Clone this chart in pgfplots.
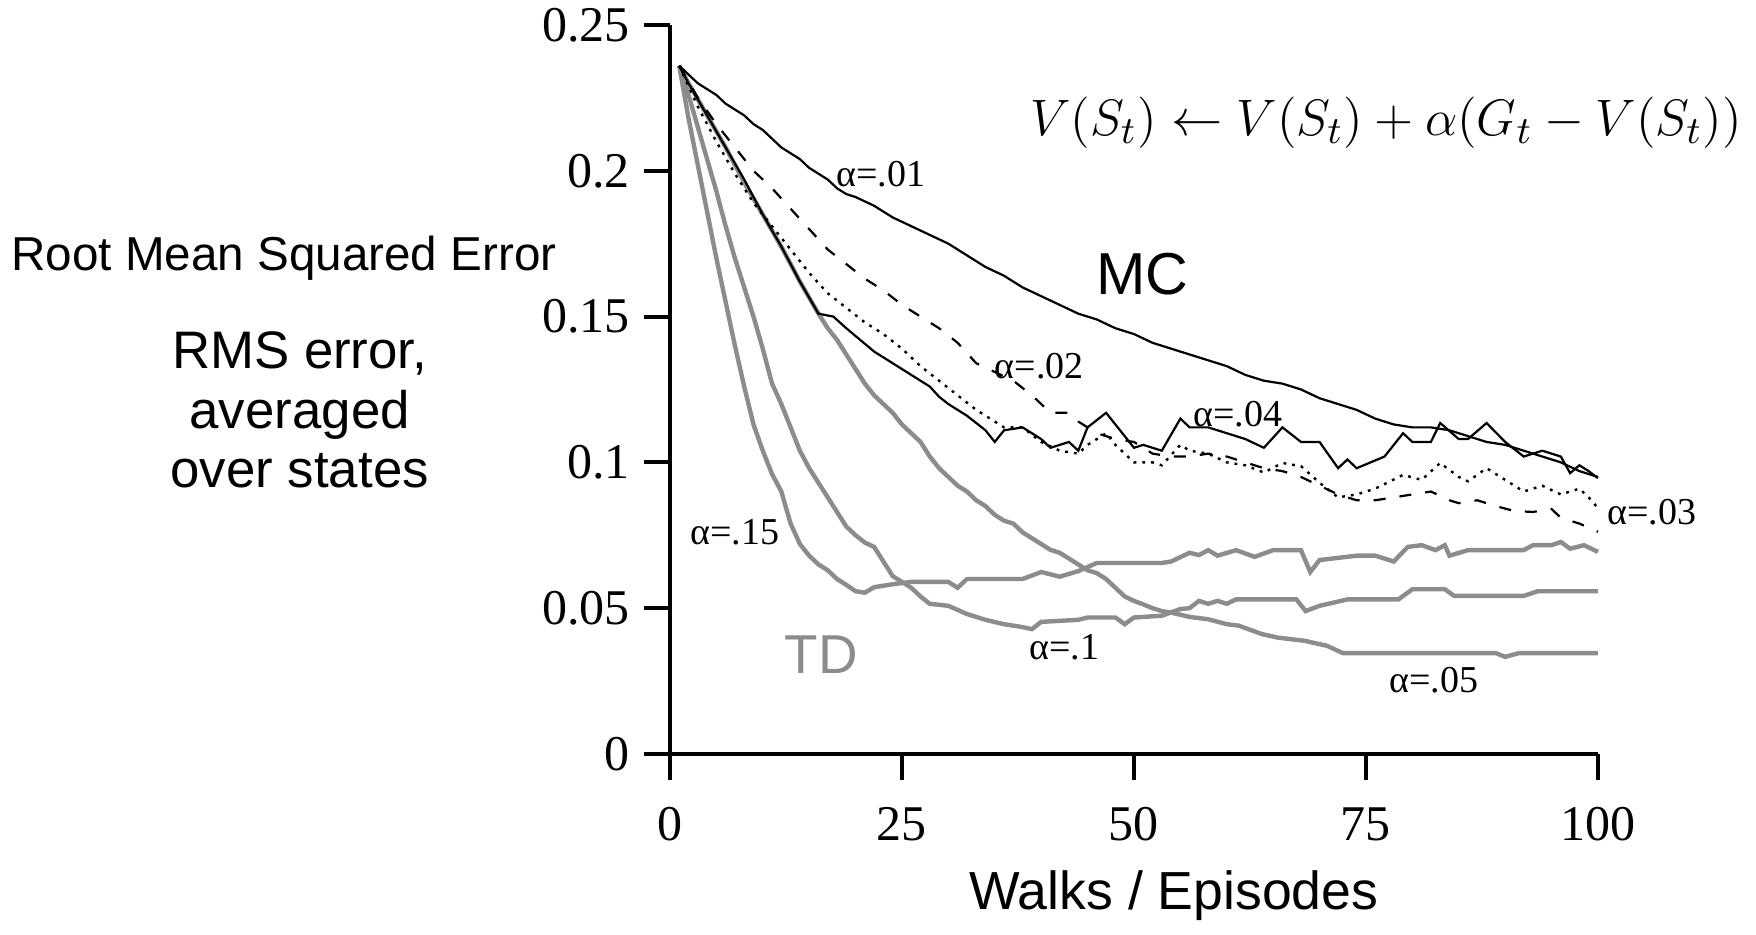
\documentclass[border=0pt]{standalone}
\usepackage{pgfplots}
\pgfplotsset{compat=1.18}
\usepackage{fontspec}
\setmainfont{Liberation Serif}
\newfontfamily\arial{Liberation Sans}
\definecolor{tdgray}{RGB}{140,140,140}
\begin{document}
\begin{tikzpicture}
\begin{axis}[
 scale only axis, width=232pt, height=182.25pt,
 xmin=0,xmax=100,ymin=0,ymax=0.25,
 axis x line*=bottom, axis y line*=left,
 axis line style={line width=1.1pt},
 tick align=outside, major tick length=6.5pt, tick style={line width=1pt, black},
 xtick={0,25,50,75,100}, ytick={0,0.05,0.1,0.15,0.2,0.25},
 /pgf/number format/assume math mode=true,
 /pgf/number format/fixed,
 ticklabel style={font=\fontsize{12.5}{14}\selectfont},
 xticklabel style={yshift=-3.4pt},
 clip=false,
]
% TD alpha=.15
\addplot[tdgray, line width=1.1pt] coordinates {
(1,0.236)(2,0.218)(3,0.202)(4,0.186)(5,0.170)(6,0.155)(7,0.140)(8,0.126)(9,0.113)(10,0.104)
(11,0.096)(12,0.090)(13,0.079)(14,0.072)(15,0.068)(16,0.065)(17,0.063)(18,0.060)(19,0.058)(20,0.0558)
(21,0.0553)(22,0.0572)(24,0.0582)(26,0.059)(28,0.059)(30,0.059)(31,0.057)(32,0.0600)(38,0.0600)(40,0.0624)
(42,0.0608)(44,0.0627)(46,0.0655)(53,0.0655)(54,0.066)(56,0.069)(57,0.0682)(58,0.0699)(59,0.068)(61,0.0699)
(63,0.0676)(65,0.0699)(68,0.0699)(69,0.0624)(70,0.0665)(74,0.068)(76,0.068)(78,0.066)(79.5,0.071)(81,0.0716)
(82.5,0.0699)(83.5,0.0716)(84,0.068)(86,0.0699)(92,0.0699)(93,0.0716)(95,0.0716)(96,0.0727)(97,0.0704)(98.5,0.0716)
(100,0.0693)
};
% TD alpha=.1
\addplot[tdgray, line width=1.1pt] coordinates {
(1,0.236)(2,0.226)(3,0.215)(4,0.204)(5,0.193)(6,0.181)(7,0.170)(8,0.160)(9,0.150)(10,0.139)
(11,0.127)(12,0.120)(13,0.112)(14,0.104)(15,0.098)(16,0.093)(17,0.088)(18,0.083)(19,0.078)(20,0.075)
(21,0.0725)(22,0.071)(23,0.066)(24,0.061)(25,0.059)(26,0.057)(27,0.054)(28,0.0515)(30,0.0508)(32,0.048)
(34,0.046)(36,0.0445)(38,0.0435)(39,0.0428)(40,0.0453)(44,0.046)(45,0.0468)(48,0.0468)(49,0.0445)(50,0.0468)
(53,0.0474)(55,0.0497)(56,0.050)(57,0.0525)(58,0.0515)(59,0.0525)(60,0.0515)(61,0.053)(67.5,0.053)(68.5,0.049)
(70,0.0508)(73,0.053)(78.5,0.053)(80,0.0565)(83.5,0.0565)(84.5,0.0542)(92,0.0542)(93.5,0.0558)(100,0.0558)
};
% TD alpha=.05
\addplot[tdgray, line width=1.1pt] coordinates {
(1,0.236)(2,0.230)(4,0.219)(6,0.208)(8,0.196)(10,0.185)(12,0.174)(14,0.162)(16,0.151)(17,0.146)
(18,0.142)(19,0.137)(20,0.132)(21,0.127)(22,0.123)(23,0.120)(24,0.117)(25,0.113)(26,0.110)(27,0.107)
(28,0.102)(29,0.098)(30,0.095)(31,0.092)(32,0.090)(33,0.087)(34,0.085)(35,0.082)(36,0.080)(37,0.079)
(38,0.076)(39,0.074)(40,0.072)(41,0.070)(42,0.069)(43,0.0670)(44,0.065)(45,0.063)(46,0.062)(47,0.060)
(48,0.057)(49,0.054)(50,0.0525)(51,0.0513)(52,0.050)(53,0.049)(54,0.0485)(56,0.047)(58,0.0462)(60,0.0445)
(61.3,0.044)(63.8,0.0411)(65.5,0.0399)(68.4,0.0388)(70.8,0.0371)(72.5,0.0346)(89,0.0346)(90,0.0333)(91.5,0.0346)(100,0.0346)
};
% MC alpha=.01
\addplot[black, line width=0.55pt] coordinates {
(1,0.236)(2,0.233)(3,0.230)(4,0.228)(5,0.226)(6,0.223)(7,0.221)(8,0.219)(9,0.216)(10,0.214)
(11,0.211)(12,0.208)(13,0.206)(14,0.204)(15,0.201)(16,0.199)(17,0.197)(18,0.194)(19,0.192)(20,0.191)
(22,0.188)(24,0.184)(26,0.181)(28,0.178)(30,0.175)(32,0.171)(34,0.167)(36,0.164)(38,0.160)(40,0.157)
(42,0.154)(44,0.151)(46,0.149)(48,0.146)(50,0.144)(52,0.141)(54,0.139)(56,0.137)(58,0.135)(60,0.133)
(62,0.130)(64,0.128)(66,0.127)(68,0.125)(70,0.122)(72,0.120)(74,0.118)(76,0.115)(78,0.113)(80,0.112)
(82,0.112)(84,0.111)(86,0.109)(88,0.107)(90,0.106)(92,0.104)(94,0.102)(96,0.100)(98,0.097)(100,0.095)
};
% MC alpha=.02 dashed
\addplot[black, line width=0.55pt, dash pattern=on 3pt off 3.5pt] coordinates {
(1,0.236)(3,0.225)(5,0.216)(7,0.208)(9,0.200)(11,0.194)(13,0.187)(15,0.180)(17,0.173)(19,0.168)
(21,0.163)(23,0.159)(25,0.154)(27,0.150)(29,0.146)(31,0.141)(33,0.134)(35,0.131)(37,0.128)(39,0.123)
(41,0.117)(43,0.117)(44,0.114)(46,0.110)(48,0.108)(50,0.107)(52,0.103)(54,0.102)(56,0.102)(58,0.103)
(60,0.102)(62,0.100)(64,0.098)(66,0.097)(68,0.095)(70,0.092)(72,0.089)(74,0.087)(76,0.087)(78,0.088)
(80,0.089)(82,0.090)(84,0.087)(85,0.086)(87,0.087)(89,0.085)(91,0.0833)(93,0.083)(95,0.084)(96,0.081)
(98,0.079)(100,0.0762)
};
% MC alpha=.03 dotted
\addplot[black, line width=0.6pt, dash pattern=on 0.7pt off 1.5pt] coordinates {
(1,0.236)(3,0.222)(5,0.210)(7,0.199)(9,0.189)(11,0.181)(13,0.173)(15,0.165)(17,0.158)(19,0.153)
(21,0.148)(23,0.144)(25,0.139)(27,0.133)(29,0.128)(31,0.123)(33,0.118)(34,0.116)(36,0.112)(38,0.112)
(40,0.107)(42,0.104)(44,0.103)(45,0.106)(47,0.110)(48,0.106)(50,0.100)(52,0.100)(53,0.099)(55,0.106)
(56,0.104)(58,0.103)(60,0.100)(62,0.099)(64,0.0965)(66,0.0998)(68,0.0987)(70,0.093)(72,0.088)(74,0.089)
(76,0.091)(79,0.0957)(81,0.094)(83,0.0998)(85,0.095)(86,0.0935)(88,0.098)(90,0.094)(92,0.090)(94,0.092)
(96,0.089)(98,0.091)(99,0.088)(100,0.0843)
};
% MC alpha=.04
\addplot[black, line width=0.55pt] coordinates {
(1,0.236)(2,0.230)(4,0.219)(6,0.208)(8,0.197)(10,0.185)(12,0.174)(14,0.162)(16,0.151)(17.6,0.150)
(19,0.146)(20.5,0.142)(22,0.138)(24,0.134)(26,0.130)(28,0.126)(29,0.1225)(30,0.120)(32,0.116)(34,0.111)(35,0.107)
(36,0.111)(38,0.112)(40,0.108)(41,0.105)(42,0.106)(43,0.107)(44,0.104)(45,0.112)(47,0.117)(48,0.113)
(50,0.105)(51,0.106)(52,0.105)(53,0.104)(55,0.115)(56,0.112)(58,0.112)(60,0.110)(62,0.108)(64,0.105)
(66,0.112)(68,0.107)(70,0.107)(72,0.098)(73,0.101)(74,0.098)(77,0.102)(79,0.110)(80,0.107)(82,0.107)
(83,0.1135)(85,0.108)(86,0.108)(88,0.1135)(90,0.107)(92,0.102)(94,0.104)(96,0.102)(97,0.0963)(98,0.099)
(99,0.097)(100,0.0946)
};
% labels
\node[font=\arial\fontsize{11.9}{14}\selectfont] at (axis cs:-41.6,0.170) {Root Mean Squared Error};
\node[font=\arial\fontsize{13.2}{14.9}\selectfont, align=center] at (axis cs:-39.9,0.118) {RMS error,\\averaged\\over states};
\node[font=\arial\fontsize{13.4}{15}\selectfont] at (axis cs:54.3,-0.0487) {Walks / Episodes};
\node[font=\arial\fontsize{14.8}{16}\selectfont] at (axis cs:50.9,0.1646) {MC};
\node[font=\arial\fontsize{13.7}{16}\selectfont, text=tdgray] at (axis cs:16.3,0.034) {TD};
\node[font=\fontsize{12.5}{15}\selectfont, anchor=east, inner sep=0pt, scale=1.068, transform shape] at (axis cs:115.6,0.2164) {$V(S_t) \leftarrow V(S_t) + \alpha\bigl(G_t - V(S_t)\bigr)$};
\node[font=\fontsize{9.5}{11}\selectfont] at (axis cs:22.7,0.199) {α=.01};
\node[font=\fontsize{9.5}{11}\selectfont] at (axis cs:39.8,0.133) {α=.02};
\node[font=\fontsize{9.5}{11}\selectfont] at (axis cs:61.2,0.1166) {α=.04};
\node[font=\fontsize{9.5}{11}\selectfont] at (axis cs:105.8,0.083) {α=.03};
\node[font=\fontsize{9.5}{11}\selectfont] at (axis cs:7.0,0.0761) {α=.15};
\node[font=\fontsize{9.5}{11}\selectfont] at (axis cs:42.5,0.0367) {α=.1};
\node[font=\fontsize{9.5}{11}\selectfont] at (axis cs:82.3,0.0254) {α=.05};
\coordinate (bbbl) at (axis cs:-72.198,-0.06207);
\coordinate (bbtr) at (axis cs:117.03,0.25857);
\end{axis}
\pgfresetboundingbox
\path[use as bounding box] (bbbl) rectangle (bbtr);
\end{tikzpicture}
\end{document}
